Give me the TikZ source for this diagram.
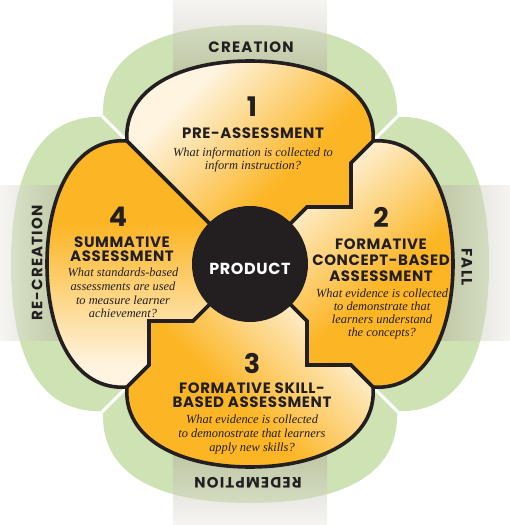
\documentclass[tikz,border=0pt]{standalone}
\usepackage{fontspec}
\setmainfont{Liberation Serif}
\setsansfont{Poppins}
\newfontfamily\ttlfont{Poppins}[LetterSpace=4]
\newfontfamily\ringfont{Poppins}[LetterSpace=8]
\definecolor{orng}{RGB}{252,181,36}
\definecolor{cream}{RGB}{254,244,224}
\definecolor{leaf}{RGB}{206,226,180}
\definecolor{bandg}{RGB}{180,175,155}
\definecolor{ink}{RGB}{35,31,32}
\pgfdeclareverticalshading{petalsh}{100bp}{color(0bp)=(orng); color(42bp)=(orng); color(70bp)=(cream); color(100bp)=(cream)}
\begin{document}
\begin{tikzpicture}[x=1pt,y=1pt,
  rim/.style={draw=ink, line width=3.6pt, line join=miter},
  gap/.style={draw=white, line width=3pt},
  num/.style={font=\sffamily\bfseries\fontsize{27}{27}\selectfont, text=ink, inner sep=0pt},
  ttl/.style={font=\ttlfont\bfseries\fontsize{15}{15}\selectfont, text=ink, align=center, inner sep=0pt},
  qtext/.style={font=\itshape\fontsize{12.4}{12.8}\selectfont, text=ink, align=center, inner sep=0pt},
  ringtxt/.style={font=\ringfont\bfseries\fontsize{15}{15}\selectfont, text=ink, inner sep=0pt},
  petal/.style={shading=petalsh}
]
\useasboundingbox (-250,-261) rectangle (260,264);
% green lobes
\fill[leaf] (-147,147) .. controls (-150,215) and (-85,239) .. (0,239) .. controls (85,239) and (150,215) .. (147,147)
 .. controls (215,150) and (239,85) .. (239,0) .. controls (239,-85) and (215,-150) .. (147,-147)
 .. controls (150,-215) and (85,-239) .. (0,-239) .. controls (-85,-239) and (-150,-215) .. (-147,-147)
 .. controls (-215,-150) and (-239,-85) .. (-239,0) .. controls (-239,85) and (-215,150) .. cycle;
% gaps
\coordinate (jTL) at (-123,123); \coordinate (jTR) at (123,123);
\coordinate (jBR) at (123,-123); \coordinate (jBL) at (-123,-123);
\coordinate (gTL) at (-162,162); \coordinate (gTR) at (162,162);
\coordinate (gBR) at (162,-162); \coordinate (gBL) at (-162,-162);
\draw[gap] (jTL) -- (gTL); \draw[gap] (jTR) -- (gTR);
\draw[gap] (jBR) -- (gBR); \draw[gap] (jBL) -- (gBL);
% bands
\shade[top color=bandg!25, bottom color=bandg, middle color=bandg, opacity=0.5] (-77,120) rectangle (77,264);
\shade[top color=bandg, bottom color=bandg!25, middle color=bandg, opacity=0.5] (-77,-261) rectangle (77,-120);
\shade[left color=bandg!25, right color=bandg, middle color=bandg, opacity=0.5] (-250,-76) rectangle (-120,78);
\shade[left color=bandg, right color=bandg!25, middle color=bandg, opacity=0.5] (120,-76) rectangle (260,78);
% petals
\shade[petal, shading angle=45] (-123,123) .. controls (-127,175) and (-70,203) .. (0,203) .. controls (70,203) and (127,175) .. (123,123)
  -- (101,101) -- (101,57) -- (57,57) -- (0,0) -- cycle;
\shade[petal, shading angle=40] (123,123) .. controls (175,127) and (203,70) .. (203,0) .. controls (203,-70) and (175,-127) .. (123,-123)
  -- (101,-101) -- (57,-101) -- (57,-57) -- (0,0) -- (57,57) -- (101,57) -- (101,101) -- cycle;
\shade[petal, shading angle=-45] (123,-123) .. controls (127,-175) and (70,-203) .. (0,-203) .. controls (-70,-203) and (-127,-175) .. (-123,-123)
  -- (-101,-101) -- (-101,-57) -- (-57,-57) -- (0,0) -- (57,-57) -- (57,-101) -- (101,-101) -- cycle;
\shade[petal, shading angle=180] (-123,-123) .. controls (-175,-127) and (-203,-70) .. (-203,0) .. controls (-203,70) and (-175,127) .. (-123,123)
  -- (0,0) -- (-57,-57) -- (-101,-57) -- (-101,-101) -- cycle;
% outlines
\draw[rim] (-123,123) .. controls (-127,175) and (-70,203) .. (0,203) .. controls (70,203) and (127,175) .. (123,123)
  .. controls (175,127) and (203,70) .. (203,0) .. controls (203,-70) and (175,-127) .. (123,-123)
  .. controls (127,-175) and (70,-203) .. (0,-203) .. controls (-70,-203) and (-127,-175) .. (-123,-123)
  .. controls (-175,-127) and (-203,-70) .. (-203,0) .. controls (-203,70) and (-175,127) .. cycle;
\coordinate (o) at (0,0);
\draw[rim] (o) -- (jTL);
\draw[rim] (o) -- (57,57) -- (101,57) -- (101,101) -- (jTR);
\draw[rim] (o) -- (57,-57) -- (57,-101) -- (101,-101) -- (jBR);
\draw[rim] (o) -- (-57,-57) -- (-101,-57) -- (-101,-101) -- (jBL);
% hub
\node[circle, fill=ink, minimum size=116pt, inner sep=0pt] (hub) at (o) {};
\node[font=\ttlfont\bfseries\fontsize{16}{16}\selectfont, text=white, inner sep=0pt] (hubtxt) at (0,-5) {PRODUCT};
% petal 1
\node[num] (n1) at (2,157) {1};
\node[ttl] (t1) at (3,131) {PRE-ASSESSMENT};
\node[qtext] (q1) at (3,104) {What information is collected to\\inform instruction?};
% petal 2
\node[num] (n2) at (131,47) {2};
\node[ttl, font=\ttlfont\bfseries\fontsize{15}{16}\selectfont] (t2) at (131,4) {FORMATIVE\\CONCEPT-BASED\\ASSESSMENT};
\node[qtext, font=\itshape\fontsize{12.4}{13.3}\selectfont] (q2) at (132,-50) {What evidence is collected\\to demonstrate that\\learners understand\\the concepts?};
% petal 3
\node[num] (n3) at (2,-99) {3};
\node[ttl, font=\ttlfont\bfseries\fontsize{15}{14}\selectfont] (t3) at (2,-131) {FORMATIVE SKILL-\\BASED ASSESSMENT};
\node[qtext, font=\itshape\fontsize{12.4}{14}\selectfont] (q3) at (2,-171) {What evidence is collected\\to demonostrate that learners\\apply new skills?};
% petal 4
\node[num] (n4) at (-132,47) {4};
\node[ttl, font=\ttlfont\bfseries\fontsize{15}{14}\selectfont] (t4) at (-128,15) {SUMMATIVE\\ASSESSMENT};
\node[qtext, font=\itshape\fontsize{12.4}{13.7}\selectfont] (q4) at (-127,-29) {What standards-based\\assessments are used\\to measure learner\\achievement?};
% ring labels
\node[ringtxt] (creation) at (1,217) {CREATION};
\node[ringtxt, rotate=-90] (fall) at (217,-3) {FALL};
\node[ringtxt, rotate=180] (redemption) at (-2,-219) {REDEMPTION};
\node[ringtxt, rotate=90] (recreation) at (-213,1) {RE-CREATION};
\end{tikzpicture}
\end{document}
